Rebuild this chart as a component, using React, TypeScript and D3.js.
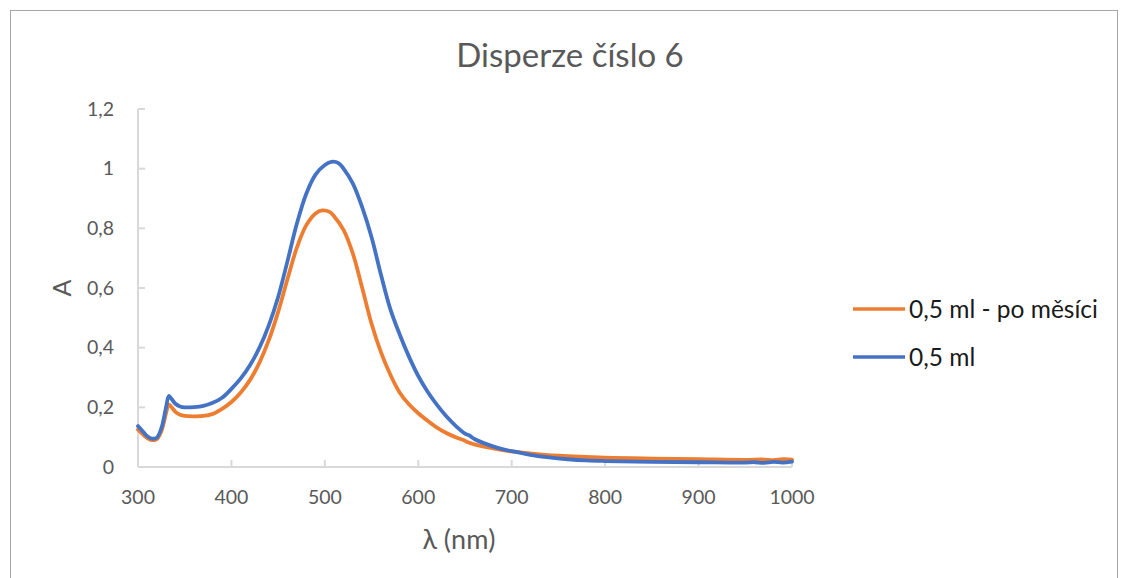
import React from 'react';
import * as d3 from 'd3';

const title = 'Disperze číslo 6';
const xTitle = 'λ (nm)';
const yTitle = 'A';
const xTicks = [300, 400, 500, 600, 700, 800, 900, 1000];
const yTicks = [0, 0.2, 0.4, 0.6, 0.8, 1, 1.2];
const seriesNames = ['0,5 ml - po měsíci', '0,5 ml'];
const seriesColors = ['#ED7D31', '#4472C4'];

// 0,5 ml - po měsíci
const orangeNm = [300, 305, 310, 315, 320, 325, 330, 333, 336, 340, 345, 350, 360, 370, 380, 390, 400, 410, 420, 430, 440, 450, 460, 470, 480, 490, 497, 505, 510, 520, 530, 540, 550, 560, 570, 580, 590, 600, 610, 620, 630, 640, 650, 653, 656, 660, 680, 700, 730, 760, 800, 850, 900, 950, 970, 980, 990, 1000];
const orangeA = [0.125, 0.11, 0.097, 0.09, 0.093, 0.12, 0.18, 0.21, 0.2, 0.185, 0.175, 0.171, 0.17, 0.171, 0.178, 0.195, 0.218, 0.25, 0.292, 0.35, 0.425, 0.52, 0.63, 0.735, 0.81, 0.85, 0.86, 0.855, 0.84, 0.795, 0.715, 0.6, 0.48, 0.385, 0.31, 0.25, 0.21, 0.18, 0.155, 0.132, 0.114, 0.1, 0.088, 0.083, 0.08, 0.076, 0.062, 0.052, 0.042, 0.036, 0.031, 0.028, 0.026, 0.024, 0.025, 0.023, 0.026, 0.025];

// 0,5 ml
const blueNm = [300, 305, 310, 315, 320, 325, 330, 333, 336, 340, 345, 350, 360, 370, 380, 390, 400, 410, 420, 430, 440, 450, 460, 470, 480, 490, 500, 507, 515, 520, 530, 540, 550, 560, 570, 580, 590, 600, 610, 620, 630, 640, 650, 655, 658, 660, 670, 680, 690, 700, 720, 740, 760, 780, 800, 850, 900, 950, 960, 970, 980, 990, 1000];
const blueA = [0.137, 0.12, 0.103, 0.095, 0.098, 0.13, 0.2, 0.238, 0.228, 0.212, 0.203, 0.2, 0.201, 0.205, 0.215, 0.232, 0.262, 0.297, 0.342, 0.4, 0.475, 0.57, 0.69, 0.815, 0.915, 0.98, 1.012, 1.023, 1.018, 1.0, 0.95, 0.87, 0.77, 0.645, 0.53, 0.445, 0.37, 0.305, 0.252, 0.208, 0.17, 0.138, 0.112, 0.105, 0.098, 0.094, 0.08, 0.069, 0.06, 0.053, 0.041, 0.032, 0.026, 0.022, 0.02, 0.017, 0.016, 0.015, 0.016, 0.014, 0.017, 0.015, 0.018];

const W = 1121;
const H = 578;
const left = 138;
const right = 792;
const top = 109;
const bottom = 467;
const font = 'Lato, "Open Sans", sans-serif';
const textColor = '#595959';
const axisColor = '#D9D9D9';

const fmt = (v: number) => String(v).replace('.', ',');

export default function App() {
  const x = d3.scaleLinear().domain([300, 1000]).range([left, right]);
  const y = d3.scaleLinear().domain([0, 1.2]).range([bottom, top]);

  const line = d3
    .line<[number, number]>()
    .x((d) => x(d[0]))
    .y((d) => y(d[1]))
    .curve(d3.curveCatmullRom.alpha(0.5));

  const series = [
    orangeNm.map((n, i) => [n, orangeA[i]] as [number, number]),
    blueNm.map((n, i) => [n, blueA[i]] as [number, number]),
  ];

  return (
    <svg
      width={W}
      height={H}
      style={{ position: 'absolute', left: 0, top: 0, background: '#fff' }}
      fontFamily={font}
    >
      <rect x={10.5} y={10.5} width={1107} height={620} fill="#fff" stroke="#A6A6A6" strokeWidth={1} />

      <text x={570} y={67} textAnchor="middle" fontSize={33} fill={textColor}>
        {title}
      </text>

      {/* axes */}
      <line x1={left} x2={left} y1={top} y2={bottom} stroke={axisColor} strokeWidth={2} />
      <line x1={left} x2={right} y1={bottom} y2={bottom} stroke={axisColor} strokeWidth={2} />

      {yTicks.map((t) => (
        <g key={'y' + t}>
          <line x1={left} x2={left + 7} y1={y(t)} y2={y(t)} stroke={axisColor} strokeWidth={2} />
          <text x={114} y={y(t)} dy="0.35em" textAnchor="end" fontSize={19.5} fill={textColor}>
            {fmt(t)}
          </text>
        </g>
      ))}
      {xTicks.map((t) => (
        <g key={'x' + t}>
          <line x1={x(t)} x2={x(t)} y1={bottom} y2={bottom - 7} stroke={axisColor} strokeWidth={2} />
          <text x={x(t)} y={497} dy="0.35em" textAnchor="middle" fontSize={19.5} fill={textColor}>
            {t}
          </text>
        </g>
      ))}

      <text x={459} y={540} dy="0.35em" textAnchor="middle" fontSize={27} fill={textColor}>
        {xTitle}
      </text>
      <text
        transform={`translate(62,${(top + bottom) / 2}) rotate(-90)`}
        dy="0.35em"
        textAnchor="middle"
        fontSize={25}
        fill={textColor}
      >
        {yTitle}
      </text>

      {series.map((s, i) => (
        <path
          key={i}
          d={line(s) ?? ''}
          fill="none"
          stroke={seriesColors[i]}
          strokeWidth={3.8}
          strokeLinejoin="round"
          strokeLinecap="round"
        />
      ))}

      {seriesNames.map((name, i) => (
        <g key={name} transform={`translate(0,${309 + i * 48})`}>
          <line x1={853} x2={905} y1={0} y2={0} stroke={seriesColors[i]} strokeWidth={3.5} />
          <text x={909} y={0} dy="0.35em" fontSize={24.5} fill="#1a1a1a">
            {name}
          </text>
        </g>
      ))}
    </svg>
  );
}
